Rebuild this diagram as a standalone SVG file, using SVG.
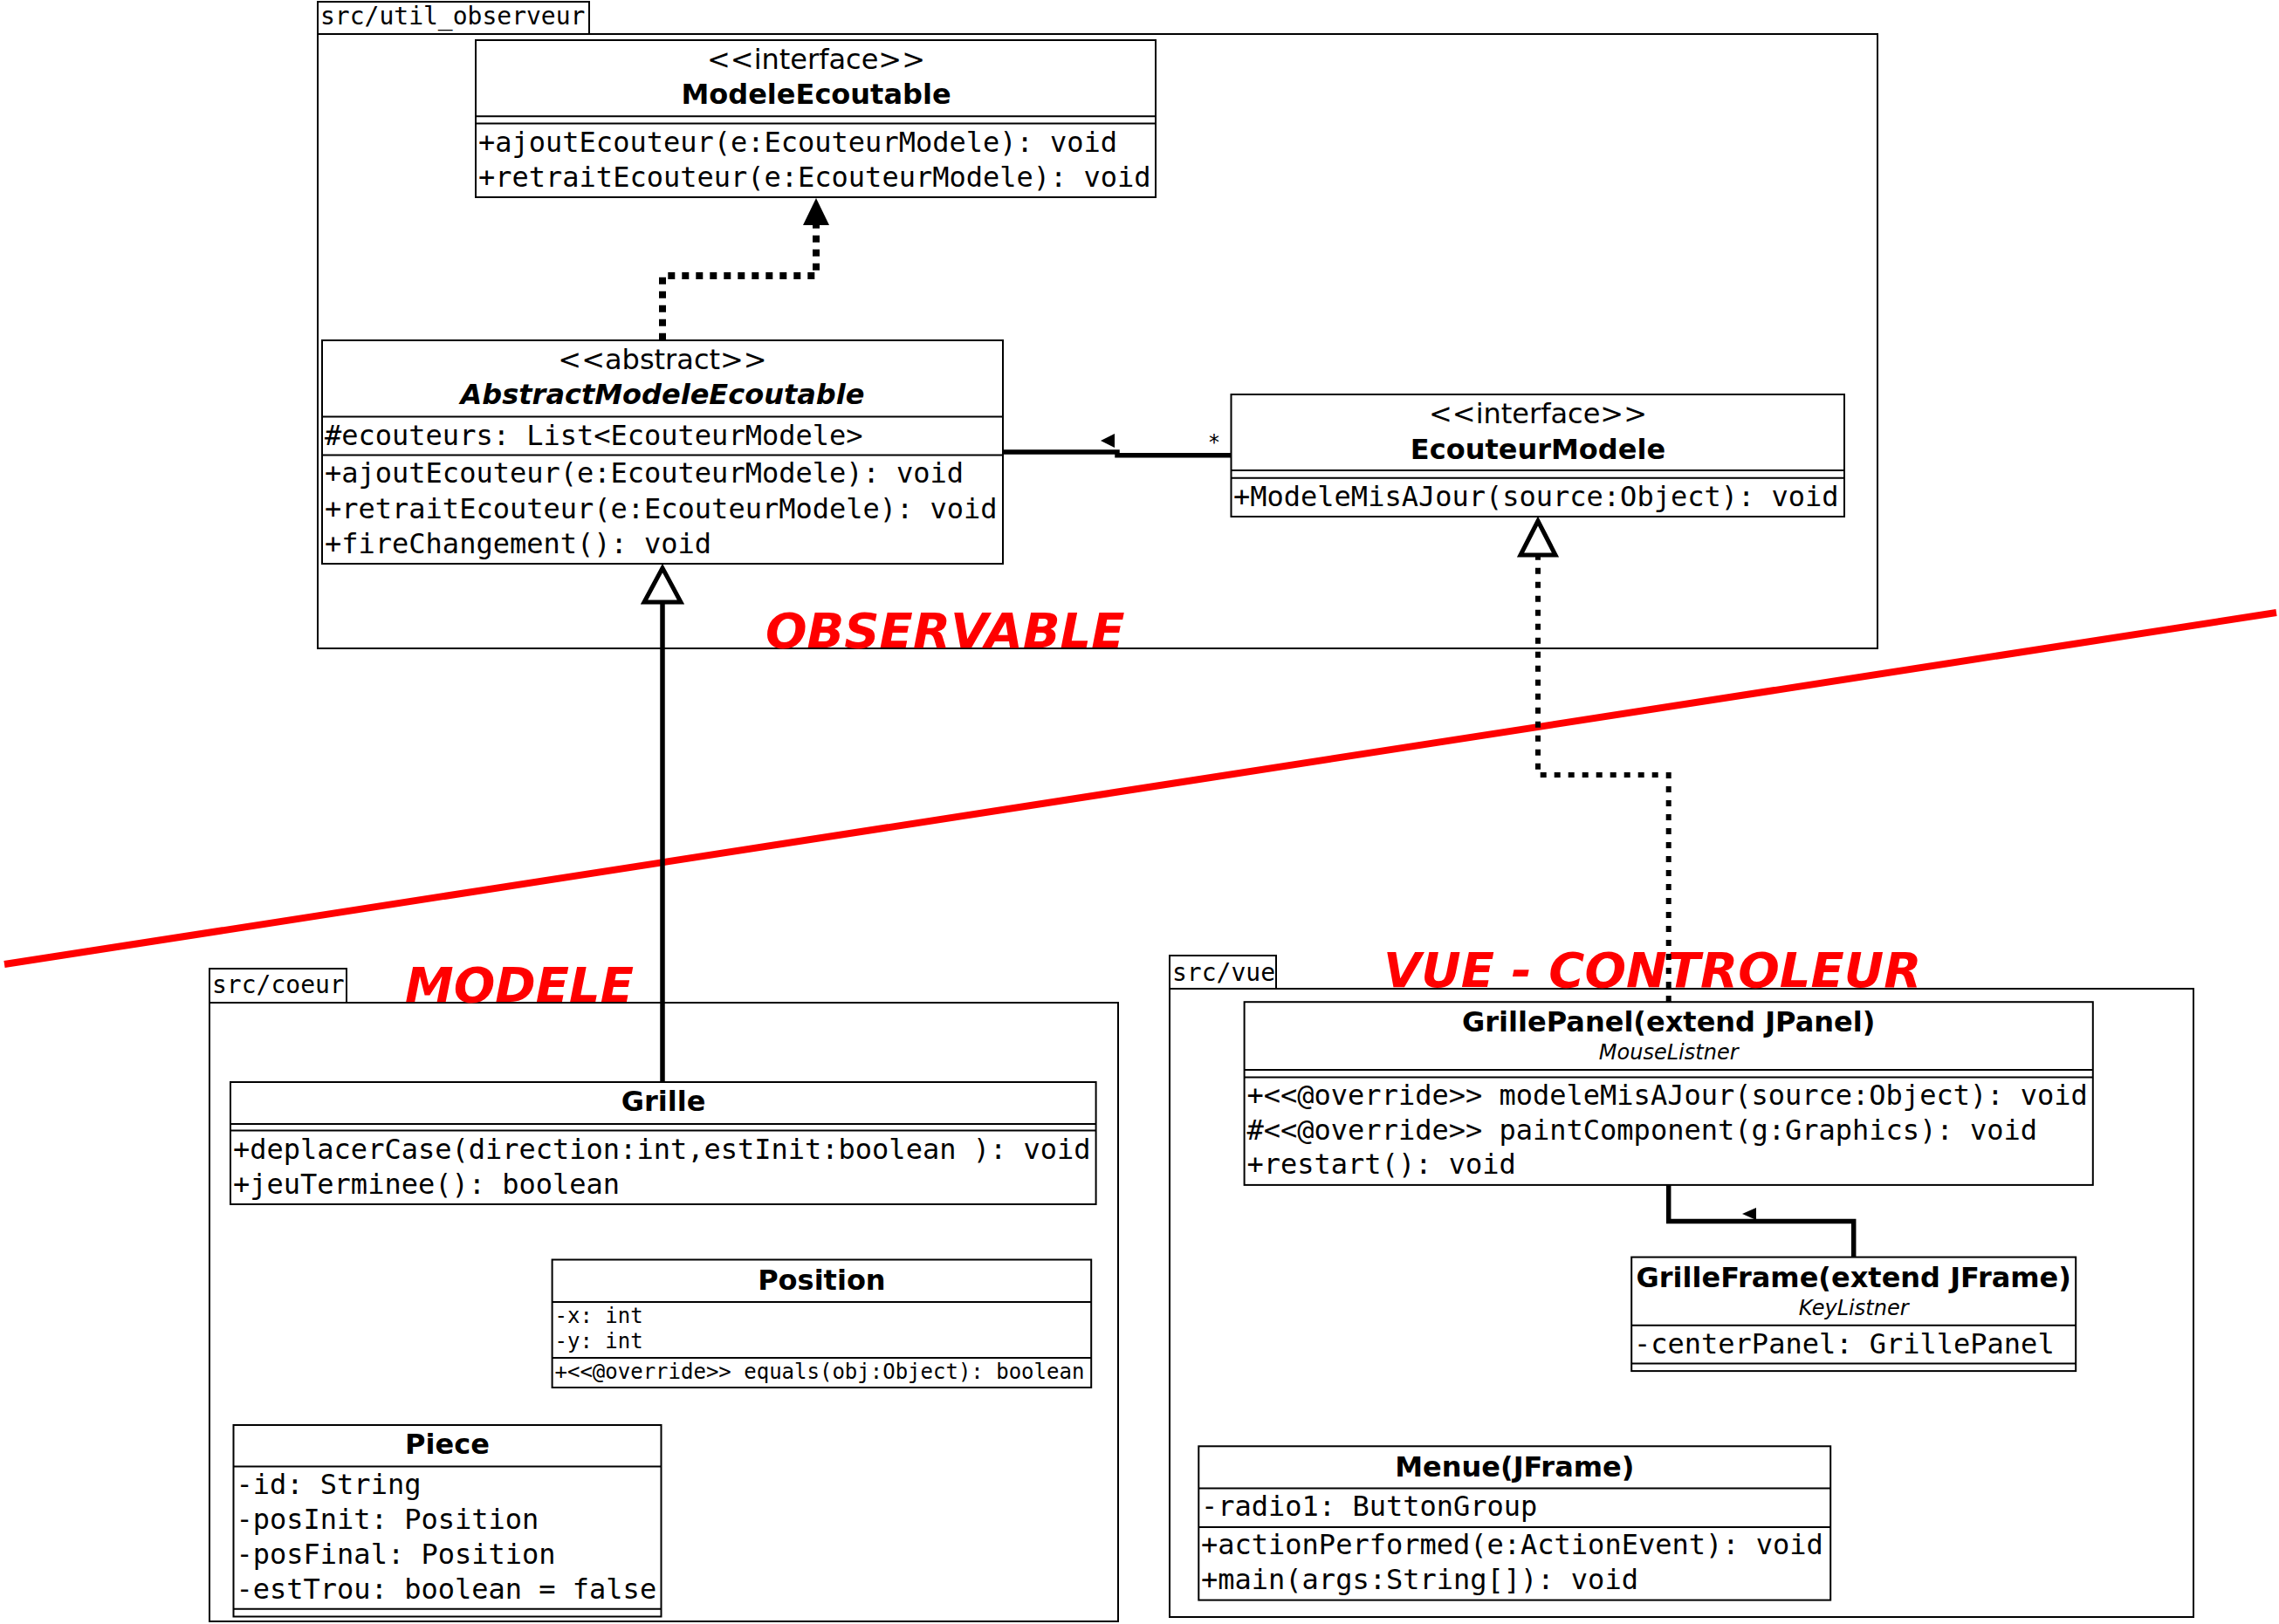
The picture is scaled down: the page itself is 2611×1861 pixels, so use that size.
<svg xmlns="http://www.w3.org/2000/svg" width="2611" height="1861" viewBox="0 0 2611 1861">
<style>
.bg{fill:#fff}
.box{fill:#fff;stroke:#000;stroke-width:2}
.ln{stroke:#000;stroke-width:2;fill:none}
.mono{font-family:"DejaVu Sans Mono","Liberation Mono",monospace;font-size:32px;fill:#000}
.sm{font-size:24px}
.tab{font-family:"DejaVu Sans Mono","Liberation Mono",monospace;font-size:28px;fill:#000}
.title{font-family:"DejaVu Sans","Liberation Sans",sans-serif;font-weight:bold;font-size:32px;text-anchor:middle;fill:#000}
.stereo{font-family:"DejaVu Sans","Liberation Sans",sans-serif;font-size:32px;text-anchor:middle;fill:#000}
.ital{font-family:"DejaVu Sans","Liberation Sans",sans-serif;font-style:italic;font-size:24px;text-anchor:middle;fill:#000}
.red{font-family:"DejaVu Sans","Liberation Sans",sans-serif;font-weight:bold;font-style:italic;font-size:56px;fill:#f00}
.conn{fill:none;stroke:#000;stroke-width:5.5}
.head{fill:#000;stroke:none}
.hollow{fill:#fff;stroke:#000;stroke-width:5}
</style>
<rect class="bg" x="0" y="0" width="2611" height="1861"/>

<g id="pkg-util-observeur">
<rect class="box" x="364" y="39" width="1787" height="704"/>
<rect class="box" x="364" y="2" width="311" height="37"/>
<text class="tab" x="367" y="28">src/util_observeur</text>
</g>
<g id="pkg-coeur">
<rect class="box" x="240" y="1149" width="1041" height="709"/>
<rect class="box" x="240" y="1110" width="157" height="39"/>
<text class="tab" x="243" y="1138">src/coeur</text>
</g>
<g id="pkg-vue">
<rect class="box" x="1340" y="1133" width="1173" height="720"/>
<rect class="box" x="1340" y="1095" width="122" height="38"/>
<text class="tab" x="1343" y="1124">src/vue</text>
</g>

<g id="ModeleEcoutable">
<rect class="box" x="545" y="46" width="779" height="180"/>
<line class="ln" x1="545" y1="133.3" x2="1324" y2="133.3"/>
<line class="ln" x1="545" y1="141.5" x2="1324" y2="141.5"/>
<text class="stereo" x="935" y="79">&lt;&lt;interface&gt;&gt;</text>
<text class="title" x="935" y="119">ModeleEcoutable</text>
<text class="mono" x="548" y="173.5">+ajoutEcouteur(e:EcouteurModele): void</text>
<text class="mono" x="548" y="213.8">+retraitEcouteur(e:EcouteurModele): void</text>
</g>

<g id="AbstractModeleEcoutable">
<rect class="box" x="369" y="390" width="780" height="256"/>
<line class="ln" x1="369" y1="477.5" x2="1149" y2="477.5"/>
<line class="ln" x1="369" y1="521.6" x2="1149" y2="521.6"/>
<text class="stereo" x="759" y="423">&lt;&lt;abstract&gt;&gt;</text>
<text class="title" x="759" y="463" font-style="italic">AbstractModeleEcoutable</text>
<text class="mono" x="372" y="510">#ecouteurs: List&lt;EcouteurModele&gt;</text>
<text class="mono" x="372" y="553">+ajoutEcouteur(e:EcouteurModele): void</text>
<text class="mono" x="372" y="594">+retraitEcouteur(e:EcouteurModele): void</text>
<text class="mono" x="372" y="634">+fireChangement(): void</text>
</g>

<g id="EcouteurModele">
<rect class="box" x="1410.5" y="452" width="702.5" height="140"/>
<line class="ln" x1="1410.5" y1="539" x2="2113" y2="539"/>
<line class="ln" x1="1410.5" y1="547.7" x2="2113" y2="547.7"/>
<text class="stereo" x="1762" y="484.7">&lt;&lt;interface&gt;&gt;</text>
<text class="title" x="1762" y="526">EcouteurModele</text>
<text class="mono" x="1413" y="580">+ModeleMisAJour(source:Object): void</text>
</g>

<g id="Grille">
<rect class="box" x="264" y="1240" width="991.6" height="140"/>
<line class="ln" x1="264" y1="1288" x2="1255.6" y2="1288"/>
<line class="ln" x1="264" y1="1295.5" x2="1255.6" y2="1295.5"/>
<text class="title" x="760" y="1273">Grille</text>
<text class="mono" x="267" y="1327.5">+deplacerCase(direction:int,estInit:boolean ): void</text>
<text class="mono" x="267" y="1367.8">+jeuTerminee(): boolean</text>
</g>

<g id="Position">
<rect class="box" x="632.6" y="1443.5" width="617.6" height="146.5"/>
<line class="ln" x1="632.6" y1="1492" x2="1250.2" y2="1492"/>
<line class="ln" x1="632.6" y1="1556" x2="1250.2" y2="1556"/>
<text class="title" x="941.4" y="1478">Position</text>
<text class="mono sm" x="635.5" y="1515.8">-x: int</text>
<text class="mono sm" x="635.5" y="1545.3">-y: int</text>
<text class="mono sm" x="635.5" y="1580">+&lt;&lt;@override&gt;&gt; equals(obj:Object): boolean</text>
</g>

<g id="Piece">
<rect class="box" x="267.5" y="1633" width="490" height="219.5"/>
<line class="ln" x1="267.5" y1="1680.5" x2="757.5" y2="1680.5"/>
<line class="ln" x1="267.5" y1="1843.7" x2="757.5" y2="1843.7"/>
<text class="title" x="512.5" y="1666">Piece</text>
<text class="mono" x="270.5" y="1712">-id: String</text>
<text class="mono" x="270.5" y="1752">-posInit: Position</text>
<text class="mono" x="270.5" y="1792">-posFinal: Position</text>
<text class="mono" x="270.5" y="1832.4">-estTrou: boolean = false</text>
</g>

<g id="GrillePanel">
<rect class="box" x="1425.6" y="1148.2" width="972.2" height="209.7"/>
<line class="ln" x1="1425.6" y1="1225.9" x2="2397.8" y2="1225.9"/>
<line class="ln" x1="1425.6" y1="1234.4" x2="2397.8" y2="1234.4"/>
<text class="title" x="1911.7" y="1182">GrillePanel(extend JPanel)</text>
<text class="ital" x="1911.7" y="1213.5">MouseListner</text>
<text class="mono" x="1428.5" y="1265.8">+&lt;&lt;@override&gt;&gt; modeleMisAJour(source:Object): void</text>
<text class="mono" x="1428.5" y="1305.6">#&lt;&lt;@override&gt;&gt; paintComponent(g:Graphics): void</text>
<text class="mono" x="1428.5" y="1345.4">+restart(): void</text>
</g>

<g id="GrilleFrame">
<rect class="box" x="1869.2" y="1440.6" width="509" height="130.5"/>
<line class="ln" x1="1869.2" y1="1518.8" x2="2378.2" y2="1518.8"/>
<line class="ln" x1="1869.2" y1="1562.6" x2="2378.2" y2="1562.6"/>
<text class="title" x="2123.7" y="1475">GrilleFrame(extend JFrame)</text>
<text class="ital" x="2123.7" y="1506.8">KeyListner</text>
<text class="mono" x="1872" y="1550.6">-centerPanel: GrillePanel</text>
</g>

<g id="Menue">
<rect class="box" x="1373.3" y="1657.3" width="723.9" height="176.3"/>
<line class="ln" x1="1373.3" y1="1705.6" x2="2097.2" y2="1705.6"/>
<line class="ln" x1="1373.3" y1="1750" x2="2097.2" y2="1750"/>
<text class="title" x="1735.3" y="1691.6">Menue(JFrame)</text>
<text class="mono" x="1376" y="1737">-radio1: ButtonGroup</text>
<text class="mono" x="1376" y="1780.7">+actionPerformed(e:ActionEvent): void</text>
<text class="mono" x="1376" y="1820.5">+main(args:String[]): void</text>
</g>

<g id="layer-separator">
<line x1="5" y1="1105" x2="2608" y2="702" stroke="#f00" stroke-width="8"/>
<text class="red" x="877" y="742">OBSERVABLE</text>
<text class="red" x="464" y="1148">MODELE</text>
<text class="red" x="1585" y="1131">VUE - CONTROLEUR</text>
</g>

<g id="connectors">
<path d="M759 389.7 V316 H935 V258" fill="none" stroke="#000" stroke-width="8" stroke-dasharray="8 8"/>
<polygon class="head" points="935,227 920,258 950,258"/>
<path class="conn" d="M759 1240 V690"/>
<polygon class="hollow" points="759,651 738,690 780,690"/>
<polyline class="conn" points="1149,518 1280,518 1280,521.7 1410.5,521.7"/>
<polygon class="head" points="1261,505 1277,497 1277,513"/>
<text x="1391" y="515" font-family="DejaVu Sans Mono, monospace" font-size="24" text-anchor="middle">*</text>
<path d="M1911.7 1148 V888 H1762 V638" fill="none" stroke="#000" stroke-width="6" stroke-dasharray="7 9"/>
<polygon class="hollow" points="1762,597 1742,636 1782,636"/>
<polyline class="conn" points="1911.7,1358 1911.7,1399.5 2123.7,1399.5 2123.7,1440.6"/>
<polygon class="head" points="1996,1391 2012,1384 2012,1398"/>
</g>
</svg>
